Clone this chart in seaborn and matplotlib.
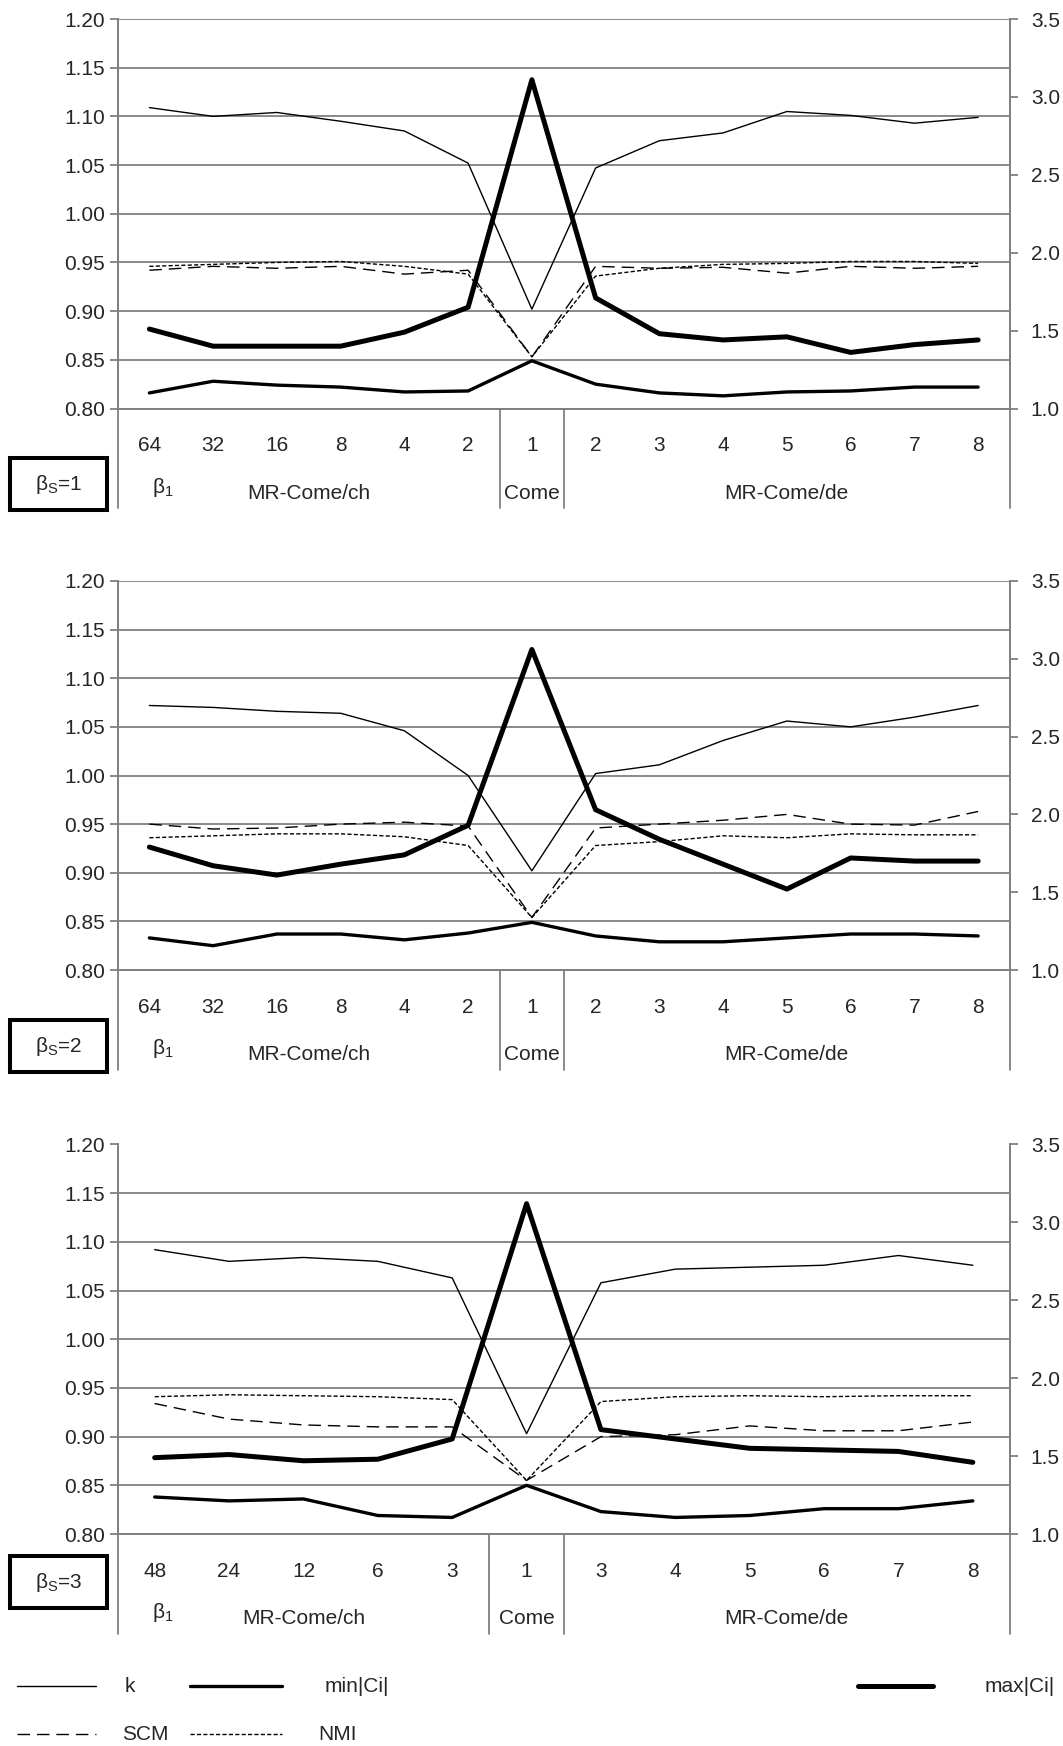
import numpy as np
import matplotlib.pyplot as plt
import seaborn as sns
from matplotlib.lines import Line2D
from matplotlib.patches import Rectangle
from matplotlib.transforms import blended_transform_factory

# x categories (beta_1 values) and their groups
cats_14 = ["64", "32", "16", "8", "4", "2", "1", "2", "3", "4", "5", "6", "7", "8"]
cats_12 = ["48", "24", "12", "6", "3", "1", "3", "4", "5", "6", "7", "8"]
groups_14 = [("MR-Come/ch", 6), ("Come", 1), ("MR-Come/de", 7)]
groups_12 = [("MR-Come/ch", 5), ("Come", 1), ("MR-Come/de", 6)]

left_ticks = [0.80, 0.85, 0.90, 0.95, 1.00, 1.05, 1.10, 1.15, 1.20]
right_ticks = [1.0, 1.5, 2.0, 2.5, 3.0, 3.5]

# beta_S = 1
k_s1 = [1.109, 1.100, 1.104, 1.095, 1.085, 1.052, 0.902, 1.047, 1.075, 1.083, 1.105, 1.101, 1.093, 1.099]
scm_s1 = [0.942, 0.946, 0.944, 0.946, 0.938, 0.942, 0.853, 0.946, 0.944, 0.945, 0.939, 0.946, 0.944, 0.946]
nmi_s1 = [0.946, 0.948, 0.950, 0.951, 0.946, 0.938, 0.853, 0.936, 0.944, 0.948, 0.949, 0.951, 0.951, 0.949]
cmin_s1 = [0.816, 0.828, 0.824, 0.822, 0.817, 0.818, 0.849, 0.825, 0.816, 0.813, 0.817, 0.818, 0.822, 0.822]
cmax_s1 = [1.51, 1.40, 1.40, 1.40, 1.49, 1.65, 3.11, 1.71, 1.48, 1.44, 1.46, 1.36, 1.41, 1.44]

# beta_S = 2
k_s2 = [1.072, 1.070, 1.066, 1.064, 1.046, 1.000, 0.902, 1.002, 1.011, 1.036, 1.056, 1.050, 1.060, 1.072]
scm_s2 = [0.950, 0.945, 0.946, 0.950, 0.952, 0.948, 0.854, 0.946, 0.950, 0.954, 0.960, 0.950, 0.949, 0.963]
nmi_s2 = [0.936, 0.938, 0.940, 0.940, 0.937, 0.928, 0.854, 0.928, 0.932, 0.938, 0.936, 0.940, 0.939, 0.939]
cmin_s2 = [0.833, 0.825, 0.837, 0.837, 0.831, 0.838, 0.849, 0.835, 0.829, 0.829, 0.833, 0.837, 0.837, 0.835]
cmax_s2 = [1.79, 1.67, 1.61, 1.68, 1.74, 1.93, 3.06, 2.03, 1.84, 1.68, 1.52, 1.72, 1.70, 1.70]

# beta_S = 3
k_s3 = [1.092, 1.080, 1.084, 1.080, 1.063, 0.903, 1.058, 1.072, 1.074, 1.076, 1.086, 1.076]
scm_s3 = [0.934, 0.918, 0.912, 0.910, 0.910, 0.855, 0.900, 0.902, 0.911, 0.906, 0.906, 0.915]
nmi_s3 = [0.941, 0.943, 0.942, 0.941, 0.938, 0.855, 0.936, 0.941, 0.942, 0.941, 0.942, 0.942]
cmin_s3 = [0.838, 0.834, 0.836, 0.819, 0.817, 0.850, 0.823, 0.817, 0.819, 0.826, 0.826, 0.834]
cmax_s3 = [1.49, 1.51, 1.47, 1.48, 1.61, 3.12, 1.67, 1.61, 1.55, 1.54, 1.53, 1.46]

W, H = 1063, 1746
GRID = "#808080"
FS = 15

sns.set_style("white")
plt.rcParams["font.family"] = ["Liberation Sans", "DejaVu Sans"]
plt.rcParams["mathtext.default"] = "regular"


def fig_rect(x0, y0, x1, y1):
    return [x0 / W, 1 - y1 / H, (x1 - x0) / W, (y1 - y0) / H]


def draw_panel(fig, top, bottom, cats, groups, k, scm, nmi, cmin, cmax, tag, box_y):
    x0, x1 = 117.5, 1010
    ax = fig.add_axes(fig_rect(x0, top, x1, bottom))
    n = len(cats)
    x = np.arange(n)
    cw = (x1 - x0) / n
    h = bottom - top

    sns.lineplot(x=x, y=k, ax=ax, color="black", lw=1.0)
    sns.lineplot(x=x, y=scm, ax=ax, color="black", lw=1.0, linestyle=(0, (9, 5)))
    sns.lineplot(x=x, y=nmi, ax=ax, color="black", lw=1.0, linestyle=(0, (3, 1.6)))
    sns.lineplot(x=x, y=cmin, ax=ax, color="black", lw=2.4)
    ax2 = ax.twinx()
    sns.lineplot(x=x, y=cmax, ax=ax2, color="black", lw=3.6)

    ax.set_xlim(-0.5, n - 0.5)
    ax.set_ylim(0.80, 1.20)
    ax2.set_ylim(1.0, 3.5)
    ax.set_yticks(left_ticks)
    ax.set_yticklabels([f"{v:.2f}" for v in left_ticks])
    ax2.set_yticks(right_ticks)
    ax2.set_yticklabels([f"{v:.1f}" for v in right_ticks])
    ax.grid(axis="y", color=GRID, lw=1.3)
    ax.grid(axis="x", visible=False)
    ax.set_axisbelow(True)

    for a in (ax, ax2):
        a.spines["top"].set_visible(False)
        for s in ("left", "right", "bottom"):
            a.spines[s].set_color(GRID)
            a.spines[s].set_linewidth(1.3)
        a.set_xlabel("")
        a.set_ylabel("")

    ax.tick_params(axis="y", direction="out", length=6, width=1.3, color=GRID, pad=3, labelsize=FS)
    ax2.tick_params(axis="y", direction="out", length=6, width=1.3, color=GRID, pad=9, labelsize=FS)
    ax.set_xticks(x)
    ax.set_xticklabels(cats)
    ax.tick_params(axis="x", which="major", length=0, pad=20, labelsize=FS)
    ax.set_xticks(np.arange(0.5, n - 1, 1), minor=True)
    ax.tick_params(axis="x", which="minor", direction="out", length=36, width=1.3, color=GRID)

    # group separators and group names under the category row
    trans = blended_transform_factory(ax.transData, ax.transAxes)
    start = -0.5
    bounds = [start]
    for name, size in groups:
        ax.text(start + size / 2, -85 / h, name, transform=trans, ha="center", va="center", fontsize=FS)
        start += size
        bounds.append(start)
    for b in bounds:
        ax.plot([b, b], [0, -100 / h], transform=trans, color=GRID, lw=1.3, clip_on=False)
    ax.text((163 - x0) / cw - 0.5, -79 / h, "β$_{1}$", transform=trans, ha="center", va="center", fontsize=FS)

    # beta_S box
    fig.add_artist(Rectangle((10 / W, 1 - (box_y + 52) / H), 97 / W, 52 / H, transform=fig.transFigure,
                             fill=False, ec="black", lw=2.9))
    fig.text(58.5 / W, 1 - (box_y + 26) / H, tag, ha="center", va="center", fontsize=FS)


fig = plt.figure(figsize=(W / 100, H / 100), dpi=100)

draw_panel(fig, 19, 408.5, cats_14, groups_14, k_s1, scm_s1, nmi_s1, cmin_s1, cmax_s1, "β$_{S}$=1", 458)
draw_panel(fig, 581, 970, cats_14, groups_14, k_s2, scm_s2, nmi_s2, cmin_s2, cmax_s2, "β$_{S}$=2", 1020)
draw_panel(fig, 1144.5, 1534, cats_12, groups_12, k_s3, scm_s3, nmi_s3, cmin_s3, cmax_s3, "β$_{S}$=3", 1556)

# legend, laid out like the spreadsheet one
legend_items = [
    ("k", 1.0, "-", 17, 96, 125, 1686),
    ("min|Ci|", 2.4, "-", 190, 282, 325, 1686),
    ("max|Ci|", 3.6, "-", 858, 933, 985, 1686),
    ("SCM", 1.0, (0, (9, 5)), 17, 96, 122, 1734),
    ("NMI", 1.0, (0, (3, 1.6)), 190, 282, 318, 1734),
]
for name, lw, ls, lx0, lx1, tx, ly in legend_items:
    fig.add_artist(Line2D([lx0 / W, lx1 / W], [1 - ly / H, 1 - ly / H], transform=fig.transFigure,
                          color="black", lw=lw, linestyle=ls))
    fig.text(tx / W, 1 - ly / H, name, ha="left", va="center", fontsize=FS)

fig.savefig("out.png", dpi=100)
